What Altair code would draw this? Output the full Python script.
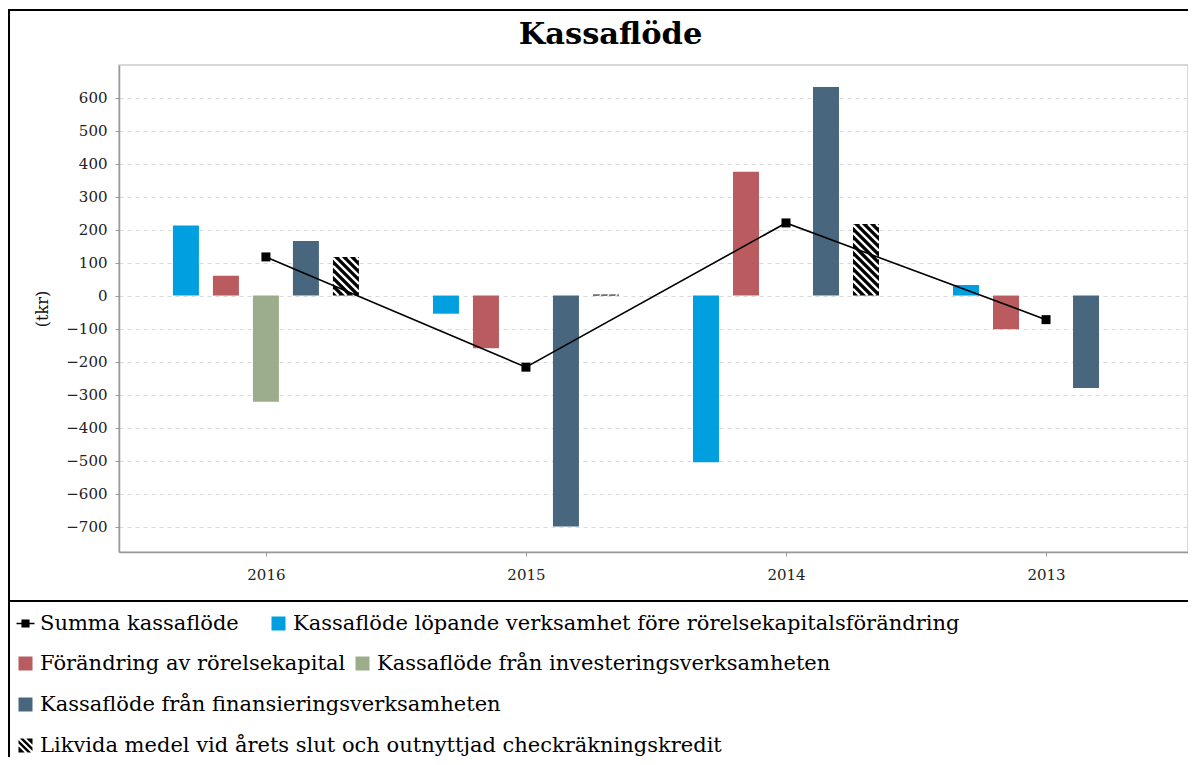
import json
import altair as alt
import pandas as pd

# ---------------- data ----------------
years = ["2016", "2015", "2014", "2013"]
series_names = [
    "Kassaflöde löpande verksamhet före rörelsekapitalsförändring",
    "Förändring av rörelsekapital",
    "Kassaflöde från investeringsverksamheten",
    "Kassaflöde från finansieringsverksamheten",
    "Likvida medel vid årets slut och outnyttjad checkräkningskredit",
]
lopande = [212, -55, -505, 32]
rorelsekapital = [60, -160, 375, -102]
investering = [-322, 0, 0, 0]
finansiering = [165, -700, 632, -280]
likvida = [117, 3, 217, 0]
summa_name = "Summa kassaflöde"
summa = [117, -217, 220, -73]
y_ticks = list(range(-700, 601, 100))

series_values = [lopande, rorelsekapital, investering, finansiering, likvida]
series_colors = ["#00a0e0", "#b95b5f", "#9bad8b", "#48677f", "#000000"]

# ---------------- layout / style ----------------
W, H = 1069, 487
X_DOMAIN = [-0.565, 3.546]
Y_DOMAIN = [-777, 698.5]
PX_X = W / (X_DOMAIN[1] - X_DOMAIN[0])
PX_Y = H / (Y_DOMAIN[1] - Y_DOMAIN[0])
SLOT = 40 / PX_X
BARW = 26 / PX_X
FONT = "DejaVu Serif"

xs = alt.Scale(domain=X_DOMAIN, nice=False, zero=False)
ys = alt.Scale(domain=Y_DOMAIN, nice=False, zero=False)
x_axis = alt.Axis(
    values=[0, 1, 2, 3],
    labelExpr=json.dumps(years) + "[datum.value]",
    grid=False, title=None, tickSize=4, labelPadding=11, labelFlush=False,
    labelFontSize=15, labelFont=FONT,
)
y_axis = alt.Axis(
    values=y_ticks, grid=True, gridColor="#d9d9d9", gridDash=[4, 4], gridWidth=1,
    tickSize=4, labelPadding=8, labelFontSize=15, labelFont=FONT,
    title="(tkr)", titleFont=FONT, titleFontSize=16, titleFontWeight="normal",
    titleColor="#111111", titleAngle=-90, titleX=-77, titleY=H / 2,
    titleAlign="center", titleBaseline="middle",
)

LINE_SYMBOL = "M-1,-0.08H1V0.08H-1Z M-0.45,-0.45H0.45V0.45H-0.45Z"
HATCH_SYMBOL = ("M0.1,-1L1,-1L1,-0.1Z M-0.8,-1L-0.3,-1L1,0.3L1,0.8Z "
                "M-1,-0.8L0.8,1L0.3,1L-1,-0.3Z M-1,0.1L-0.1,1L-1,1Z")

legend_common = dict(
    title=None, orient="none", labelFont=FONT, labelFontSize=21,
    labelColor="#000000", labelLimit=0, labelOffset=4, padding=0,
    symbolOpacity=1, symbolStrokeWidth=0,
)
legend_pos = [(149, 548), (-104, 588), (233, 588), (-104, 629), (-104, 670)]

# ---------------- tables ----------------
bars = pd.DataFrame([
    {"year": years[i], "idx": i, "slot": j, "series": series_names[j], "value": vals[i]}
    for j, vals in enumerate(series_values) for i in range(len(years))
])
line_df = pd.DataFrame({"year": years, "idx": list(range(len(years))),
                        "summa": summa, "series": summa_name})

# hatch strokes for the last series, derived from its values
hatch_rows = []
for i, v in enumerate(likvida):
    if v == 0:
        continue
    xl = i + 2 * SLOT - BARW / 2
    top, bot = max(v, 0), min(v, 0)
    hpx = (top - bot) * PX_Y
    wpx = BARW * PX_X
    c = -wpx + 3
    while c < hpx:
        x1, x2 = max(0, -c), min(wpx, hpx - c)
        if x2 > x1:
            hatch_rows.append({
                "hx": xl + x1 / PX_X, "hy": top - (x1 + c) / PX_Y,
                "hx2": xl + x2 / PX_X, "hy2": top - (x2 + c) / PX_Y,
            })
        c += 8
hatch_df = pd.DataFrame(hatch_rows)
one = pd.DataFrame({"a": [0]})

# ---------------- layers ----------------
layers = []

frame = alt.Chart(one).mark_rect(fill="transparent", stroke="black", strokeWidth=2).encode(
    x=alt.value(-110), x2=alt.value(1400), y=alt.value(-55), y2=alt.value(1000))
sep = alt.Chart(one).mark_rule(color="black", strokeWidth=2).encode(
    x=alt.value(-110), x2=alt.value(1400), y=alt.value(536))
layers += [frame, sep]

for j, name in enumerate(series_names):
    lx, ly = legend_pos[j]
    extra = {"symbolType": HATCH_SYMBOL} if j == 4 else {"symbolType": "square"}
    layer = alt.Chart(bars[bars.series == name]).transform_calculate(
        x0=f"datum.idx + (datum.slot - 2) * {SLOT} - {BARW / 2}",
        x1=f"datum.idx + (datum.slot - 2) * {SLOT} + {BARW / 2}",
    ).mark_bar(opacity=1).encode(
        x=alt.X("x0:Q", scale=xs, axis=x_axis),
        x2="x1:Q",
        y=alt.Y("value:Q", scale=ys, axis=y_axis),
        y2=alt.datum(0),
        color=alt.Color("series:N",
                        scale=alt.Scale(domain=[name], range=[series_colors[j]]),
                        legend=alt.Legend(legendX=lx, legendY=ly, symbolSize=196,
                                          **extra, **legend_common)),
    )
    layers.append(layer)

hatch = alt.Chart(hatch_df).mark_rule(color="white", strokeWidth=2.3).encode(
    x=alt.X("hx:Q", scale=xs, axis=x_axis), x2="hx2:Q",
    y=alt.Y("hy:Q", scale=ys, axis=y_axis), y2="hy2:Q",
)
layers.append(hatch)

line = alt.Chart(line_df).mark_line(color="black", strokeWidth=1.6).encode(
    x=alt.X("idx:Q", scale=xs, axis=x_axis),
    y=alt.Y("summa:Q", scale=ys, axis=y_axis),
)
points = alt.Chart(line_df).mark_square(size=81, opacity=1, filled=True).encode(
    x=alt.X("idx:Q", scale=xs, axis=x_axis),
    y=alt.Y("summa:Q", scale=ys, axis=y_axis),
    color=alt.Color("series:N", scale=alt.Scale(domain=[summa_name], range=["#000000"]),
                    legend=alt.Legend(legendX=-104, legendY=548, symbolType=LINE_SYMBOL,
                                      symbolSize=324, **legend_common)),
)
layers += [line, points]

chart = alt.layer(*layers).resolve_scale(color="independent").properties(
    width=W, height=H,
    background="white",
    autosize=alt.AutoSizeParams(type="none"),
    padding={"left": 111, "top": 57, "right": 0, "bottom": 205},
    title=alt.TitleParams("Kassaflöde", font=FONT, fontSize=30.5, fontWeight="bold",
                          color="#000000", anchor="middle", frame="group",
                          dx=-43, dy=31, offset=-34, baseline="alphabetic"),
).configure_view(stroke="#cccccc", strokeWidth=1.5).configure_axis(
    domainColor="#999999", domainWidth=1.5, tickColor="#999999", tickWidth=1,
    labelFont=FONT, labelColor="#222222",
)

chart.save("out.html", embed_options={"renderer": "svg", "actions": False})
